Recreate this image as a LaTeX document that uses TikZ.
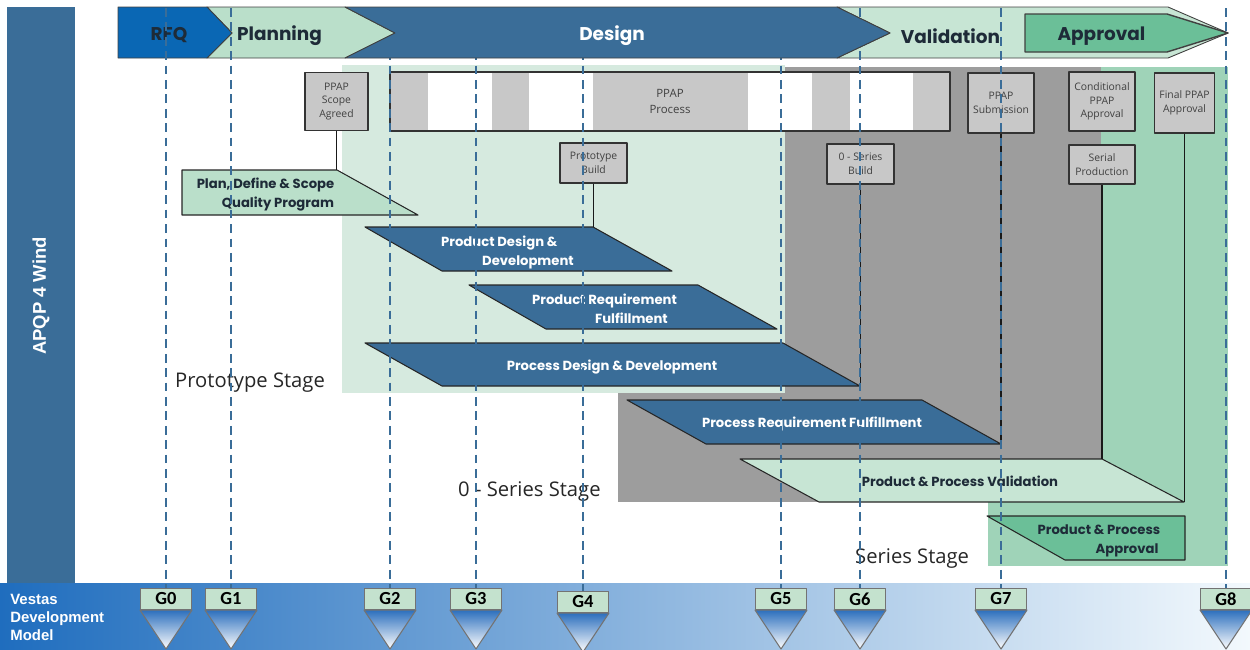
\documentclass[tikz,border=0pt]{standalone}
\usepackage{fontspec}
\setmainfont{Poppins}
\newfontfamily\boxfont{Open Sans}
\newfontfamily\arialfont{Liberation Sans}
\newfontfamily\gatefont{Carlito}
\definecolor{steel}{HTML}{3A6D98}
\definecolor{rfqblue}{HTML}{0A67B4}
\definecolor{palegreen}{HTML}{BADFCA}
\definecolor{valgreen}{HTML}{C7E5D4}
\definecolor{appgreen}{HTML}{6BBF98}
\definecolor{protogreen}{HTML}{D6EADF}
\definecolor{seriesgreen}{HTML}{9FD3B8}
\definecolor{zerogray}{HTML}{9D9D9D}
\definecolor{boxgray}{HTML}{C8C8C8}
\definecolor{ink}{HTML}{1E2B38}
\definecolor{gatebox}{HTML}{C4E2CE}
\definecolor{gateblue}{HTML}{2C6FBD}
\definecolor{bandA}{HTML}{1F6DBE}
\definecolor{bandB}{HTML}{7FBBE4}
\definecolor{bandC}{HTML}{F3F9FD}
\tikzset{ppap/.style 2 args={draw=black!80, fill=boxgray, line width=0.8pt, minimum width=#1*0.02cm, minimum height=#2*0.02cm, inner sep=1pt, align=center, font=\boxfont\fontsize{5.9}{7.7}\selectfont, text=black!75}}
\begin{document}
\begin{tikzpicture}[x=0.02cm, y=-0.02cm, line join=round,
  chevron/.style={draw=black!75, line width=0.5pt},
  phase/.style={font=\bfseries\fontsize{10.5}{13}\selectfont, text=ink},
  task/.style={draw=black!85, line width=0.6pt, fill=steel},
  tasktext/.style={font=\bfseries\fontsize{7.5}{10.8}\selectfont, text=white, align=left},
  stage/.style={anchor=west, font=\boxfont\fontsize{11.5}{13}\selectfont, text=black!85},
  gate/.style={draw=black!55, fill=gatebox, line width=0.6pt, minimum width=1.02cm, minimum height=0.42cm, inner sep=0pt, font=\gatefont\bfseries\fontsize{10.5}{12}\selectfont},
  gateline/.style={steel, line width=1.3pt, dash pattern=on 5pt off 3.2pt},
  link/.style={black!90, line width=0.6pt}]
\useasboundingbox (0,0) rectangle (1250,649);
\fill[steel] (7,7) rectangle (75,583);
\node[rotate=90, text=white, font=\arialfont\bfseries\fontsize{10.5}{12}\selectfont] (apqp) at (41,296) {APQP 4 Wind};
\shade[left color=bandA, middle color=bandB, right color=bandC] (0,583) rectangle (1250,649);
\node[anchor=north west, align=left, inner sep=0pt, text=white, font=\arialfont\bfseries\fontsize{8.5}{10.2}\selectfont] (vdm) at (10,594) {Vestas\\Development\\Model};
\fill[seriesgreen] (988,67) rectangle (1228,566);
\fill[zerogray] (618,67) rectangle (1101,502);
\fill[protogreen] (342,65) rectangle (785,393);
\draw[chevron, fill=valgreen] (837,7) -- (1168,7) -- (1228,33) -- (1168,58) -- (837,58) -- (890,33) -- cycle;
\draw[chevron, fill=appgreen, line width=0.8pt] (1025,14) -- (1167,14) -- (1228,33) -- (1167,52) -- (1025,52) -- cycle;
\draw[chevron, fill=palegreen] (207,7) -- (345,7) -- (395,33) -- (345,58) -- (207,58) -- (232,33) -- cycle;
\draw[chevron, fill=rfqblue] (118,7) -- (207,7) -- (232,33) -- (207,58) -- (118,58) -- cycle;
\node[phase] (rfq) at (169,35) {RFQ};
\node[phase] (planning) at (279.5,36) {Planning};
\node[phase] (validation) at (950.5,36) {Validation};
\node[phase] (approval) at (1101.5,36) {Approval};
\fill[white] (390,72) rectangle (950,131);
\foreach \a/\b in {390/428,492/529,593/748,812/850,913/950}
  \fill[boxgray] (\a,72) rectangle (\b,131);
\node[ppap={560}{59}, fill=none, font=\boxfont\fontsize{6.5}{9}\selectfont] (process) at (670,101.5) {PPAP\\Process};
\node[ppap={63}{58}] (scope) at (336.5,101.5) {PPAP\\Scope\\Agreed};
\node[ppap={67}{40}] (protobuild) at (593.5,163) {Prototype\\Build};
\node[ppap={67}{40}] (zerobuild) at (860.5,164) {0 - Series\\Build};
\node[ppap={66}{60}] (submission) at (1001,103) {PPAP\\Submission};
\node[ppap={66}{59}] (conditional) at (1102,101.5) {Conditional\\PPAP\\Approval};
\node[ppap={66}{39}] (serial) at (1102,164.5) {Serial\\Production};
\node[ppap={60}{60}] (final) at (1184.5,103) {Final PPAP\\Approval};
\draw[task, fill=palegreen] (182,170) -- (337,170) coordinate (plan-in) -- (418,215) -- (182,215) -- cycle;
\node[tasktext, text=ink] (plan) at (265.5,194.5) {Plan, Define \& Scope\\\hspace*{0.5cm}Quality Program};
\draw[task] (365,227) -- (593,227) coordinate (pdd-in) -- (672,271) -- (442,271) -- cycle;
\node[tasktext] (pdd) at (507.5,252) {Product Design \&\\\hspace*{0.82cm}Development};
\draw[task] (469,285) -- (698,285) -- (777,329) -- (546,329) -- cycle;
\node[tasktext] (prf) at (604.5,309) {Product Requirement\\\hspace*{1.26cm}Fulfillment};
\draw[task] (365,343) -- (783,343) -- (860,386) coordinate (psd-tip) -- (442,386) -- cycle;
\node[tasktext] (psd) at (612,367) {Process Design \& Development};
\draw[task] (627,400) -- (922,400) -- (1001,444) coordinate (psf-tip) -- (706,444) -- cycle;
\node[tasktext] (psf) at (812,424) {Process Requirement Fulfillment};
\draw[task, fill=valgreen] (740,459) -- (1102,459) coordinate (ppv-in) -- (1184,502) coordinate (ppv-tip) -- (819,502) -- cycle;
\node[tasktext, text=ink] (ppv) at (960,481) {Product \& Process Validation};
\draw[task, fill=appgreen] (987,516) -- (1185,516) -- (1185,560) -- (1065,560) -- cycle;
\node[tasktext, text=ink] (ppa) at (1099,541) {Product \& Process\\\hspace*{1.16cm}Approval};
\draw[link] (scope.south) -- (scope.south |- plan-in);
\draw[link] (protobuild.south) -- (protobuild.south |- pdd-in);
\draw[link] (zerobuild.south) -- (zerobuild.south |- psd-tip);
\draw[link] (submission.south) -- (submission.south |- psf-tip);
\draw[link] (serial.south) -- (serial.south |- ppv-in);
\draw[link] (final.south) -- (final.south |- ppv-tip);
\node[stage] (protostage) at (169,383) {Prototype Stage};
\node[stage] (zerostage) at (452,492) {0 - Series Stage};
\node[stage] (seriesstage) at (849,559) {Series Stage};
\foreach \n/\x/\y in {0/166/599,1/231/599,2/390/599,3/476/599,4/583/602,5/781/599,6/860/599,7/1001/599,8/1226/599}{
  \coordinate (top\n) at (\x,8);
  \node[gate] (g\n) at (\x,\y) {G\n};
  \draw[gateline] (top\n) -- (g\n.north);
  \shadedraw[top color=gateblue, bottom color=white, draw=black!55, line width=0.6pt] (g\n.south west) -- (g\n.south east) -- ([yshift=-0.78cm]g\n.south) -- cycle;
}
\draw[chevron, fill=steel] (345,7) -- (837,7) -- (890,33) -- (837,58) -- (345,58) -- (395,33) -- cycle;
\node[phase, text=white] (design) at (612,36) {Design};
\end{tikzpicture}
\end{document}
